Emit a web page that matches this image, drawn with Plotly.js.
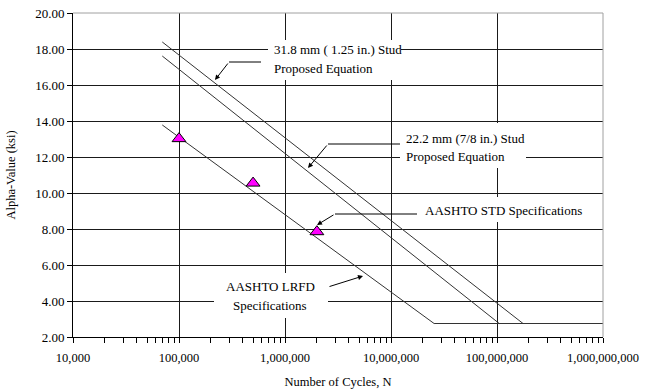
<!DOCTYPE html>
<html>
<head>
<meta charset="utf-8">
<script src="https://cdn.plot.ly/plotly-3.0.1.min.js"></script>
<style>html,body{margin:0;padding:0;background:#fff;}#chart{width:653px;height:389px;}</style>
</head>
<body>
<div id="chart"></div>
<script>
// ---- data ----
const stud318X = [69500, 176000000, 1000000000];
const stud318Y = [18.39, 2.75, 2.75];
const stud222X = [69500, 105000000, 1000000000];
const stud222Y = [17.61, 2.75, 2.75];
const lrfdX = [69500, 25500000, 1000000000];
const lrfdY = [13.78, 2.75, 2.75];
const testX = [100000, 500000, 2000000];
const testY = [13.02, 10.55, 7.85];

const xTickVals = [10000, 100000, 1000000, 10000000, 100000000, 1000000000];
const xTickText = ['10,000', '100,000', '1,000,000', '10,000,000', '100,000,000', '1,000,000,000'];
const yTickVals = [2, 4, 6, 8, 10, 12, 14, 16, 18, 20];
const yTickText = ['2.00', '4.00', '6.00', '8.00', '10.00', '12.00', '14.00', '16.00', '18.00', '20.00'];

const labels = {
  stud318: ['31.8 mm ( 1.25 in.) Stud', 'Proposed Equation'],
  stud222: ['22.2 mm (7/8 in.) Stud', 'Proposed Equation'],
  std: ['AASHTO STD Specifications'],
  lrfd: ['AASHTO LRFD', 'Specifications']
};

// ---- layout geometry (pixels of the 653x389 canvas) ----
const L = 73, R = 603, T = 13, B = 337;
const px = x => (x - L) / (R - L);
const py = y => (B - y) / (B - T);

const FONT = '"Liberation Serif", "Times New Roman", serif';
const lineColor = '#333333';

const minorVals = [];
for (let d = 4; d < 9; d++) for (let k = 2; k <= 9; k++) minorVals.push(k * Math.pow(10, d));

const traces = [
  {x: stud318X, y: stud318Y, mode: 'lines', line: {color: lineColor, width: 1}, hoverinfo: 'skip', name: '31.8 mm'},
  {x: stud222X, y: stud222Y, mode: 'lines', line: {color: lineColor, width: 1}, hoverinfo: 'skip', name: '22.2 mm'},
  {x: lrfdX, y: lrfdY, mode: 'lines', line: {color: lineColor, width: 1}, hoverinfo: 'skip', name: 'LRFD'},
  {x: testX, y: testY, mode: 'markers', marker: {symbol: 'triangle-up', size: 12, color: '#FF00FF', line: {color: '#000', width: 1}}, name: 'STD'}
];

function box(x0, y0, x1, y1) {
  return {type: 'rect', xref: 'paper', yref: 'paper', x0: px(x0), x1: px(x1), y0: py(y1), y1: py(y0),
    fillcolor: '#ffffff', opacity: 1, line: {width: 0}, layer: 'above'};
}
function seg(x0, y0, x1, y1) {
  return {type: 'line', xref: 'paper', yref: 'paper', x0: px(x0), x1: px(x1), y0: py(y0), y1: py(y1),
    line: {color: '#000', width: 1}, layer: 'above'};
}
function txt(s, x, y, anchor) {
  return {text: s, xref: 'paper', yref: 'paper', x: px(x), y: py(y), xanchor: anchor, yanchor: 'middle',
    showarrow: false, font: {family: FONT, size: 13, color: '#000'}};
}
function arrow(tipX, tipY, tailX, tailY) {
  return {text: '', xref: 'paper', yref: 'paper', x: px(tipX), y: py(tipY), ax: tailX - tipX, ay: tailY - tipY,
    showarrow: true, arrowhead: 2, arrowsize: 1, arrowwidth: 1, arrowcolor: '#000', standoff: 0, startstandoff: 0};
}

const shapes = [
  box(268, 40, 401, 80),
  box(400, 123, 526, 168),
  box(419, 197, 582, 222),
  box(214, 273, 328, 318),
  seg(229, 62, 261, 62),
  seg(328, 144, 400, 144),
  seg(335, 214, 417, 214),
  // gray plot-area border on top and right
  {type: 'line', xref: 'paper', yref: 'paper', x0: 0, x1: 1, y0: 1, y1: 1, line: {color: '#a0a0a0', width: 1}, layer: 'above'},
  {type: 'line', xref: 'paper', yref: 'paper', x0: 1, x1: 1, y0: 0, y1: 1, line: {color: '#a0a0a0', width: 1}, layer: 'above'}
];

const annotations = [
  txt(labels.stud318[0], 272, 50, 'left'),
  txt(labels.stud318[1], 272, 68, 'left'),
  arrow(215, 80, 229, 62),
  txt(labels.stud222[0], 404, 138, 'left'),
  txt(labels.stud222[1], 404, 156, 'left'),
  arrow(308, 168, 328, 144),
  txt(labels.std[0], 423, 210, 'left'),
  arrow(317, 225, 335, 214),
  txt(labels.lrfd[0], 270, 286, 'center'),
  txt(labels.lrfd[1], 270, 305, 'center'),
  arrow(363, 276, 328, 287)
];

const layout = {
  width: 653, height: 389, autosize: false,
  margin: {l: L, r: 653 - R, t: T, b: 389 - B, pad: 0},
  paper_bgcolor: '#fff', plot_bgcolor: '#fff',
  showlegend: false,
  font: {family: FONT, size: 12.5, color: '#000'},
  xaxis: {
    type: 'log', range: [4, 9],
    tickmode: 'array', tickvals: xTickVals, ticktext: xTickText,
    ticks: 'outside', ticklen: 5, tickcolor: '#000', tickwidth: 1,
    ticklabelstandoff: 4,
    minor: {tickmode: 'array', tickvals: minorVals, ticks: 'outside', ticklen: 5, tickcolor: '#000', tickwidth: 1, showgrid: false},
    showline: true, linecolor: '#000', linewidth: 1,
    showgrid: true, gridcolor: '#1a1a1a', gridwidth: 1,
    zeroline: false,
    tickfont: {family: FONT, size: 12.5},
    title: {text: 'Number of Cycles, N', font: {family: FONT, size: 12.5}, standoff: 16}
  },
  yaxis: {
    range: [2, 20],
    tickmode: 'array', tickvals: yTickVals, ticktext: yTickText,
    ticks: 'outside', ticklen: 5, tickcolor: '#000', tickwidth: 1,
    showline: true, linecolor: '#000', linewidth: 1,
    showgrid: true, gridcolor: '#1a1a1a', gridwidth: 1,
    zeroline: false,
    tickfont: {family: FONT, size: 13},
    title: {text: 'Alpha-Value (ksi)', font: {family: FONT, size: 12.5}, standoff: 16}
  },
  shapes: shapes,
  annotations: annotations
};

Plotly.newPlot('chart', traces, layout, {displayModeBar: false, staticPlot: true});
</script>
</body>
</html>
